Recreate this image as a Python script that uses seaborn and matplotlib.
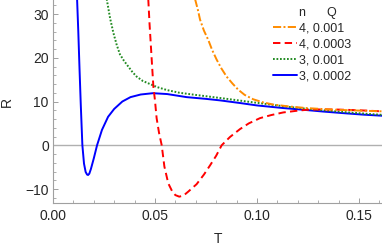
import matplotlib
matplotlib.use('Agg')
import matplotlib.pyplot as plt
from matplotlib.lines import Line2D
from matplotlib.ticker import MultipleLocator, FormatStrFormatter
import seaborn as sns
import pandas as pd

# curves: temperature T and curvature R
t_n3_q0002 = [0.0118, 0.0124, 0.0130, 0.0136, 0.0144, 0.0152, 0.0160, 0.0167, 0.0172,
              0.0178, 0.0186, 0.0200, 0.0216, 0.0240, 0.0270, 0.0300, 0.0340, 0.0380,
              0.0430, 0.0490, 0.0560, 0.0655, 0.0750, 0.0820, 0.0917, 0.1000, 0.1129,
              0.1230, 0.1325, 0.1420, 0.1520, 0.1613]
r_n3_q0002 = [33.5, 26.0, 17.5, 9.5, 0.0, -4.2, -6.1, -6.7, -6.8,
              -6.5, -5.4, -3.0, 0.0, 3.5, 6.5, 8.3, 10.0, 11.0,
              11.6, 11.9, 11.7, 11.0, 10.6, 10.25, 9.65, 9.1, 8.5,
              8.1, 7.7, 7.35, 7.0, 6.75]

t_n3_q001 = [0.0263, 0.0280, 0.0296, 0.0312, 0.0328, 0.0348, 0.0369, 0.0390, 0.0410,
             0.0440, 0.0475, 0.0510, 0.0560, 0.0620, 0.0700, 0.0820, 0.0950, 0.1050,
             0.1150, 0.1250, 0.1350, 0.1450, 0.1550, 0.1613]
r_n3_q001 = [33.5, 29.0, 25.7, 23.0, 20.8, 19.3, 18.0, 16.7, 15.7,
             14.7, 14.0, 13.3, 12.6, 12.0, 11.5, 10.8, 10.0, 9.4,
             8.8, 8.3, 7.9, 7.5, 7.15, 6.95]

t_n4_q0003 = [0.0467, 0.0473, 0.0479, 0.0486, 0.0492, 0.0500, 0.0508, 0.0520, 0.0533,
              0.0546, 0.0565, 0.0585, 0.0600, 0.0619, 0.0640, 0.0663, 0.0704, 0.0740,
              0.0770, 0.0800, 0.0827, 0.0868, 0.0917, 0.0960, 0.1015, 0.1070, 0.1129,
              0.1190, 0.1243, 0.1320, 0.1400, 0.1500, 0.1613]
r_n4_q0003 = [33.5, 28.0, 23.4, 18.0, 13.5, 10.2, 6.2, 2.8, 0.0,
              -4.85, -8.7, -10.6, -11.4, -11.75, -11.5, -10.6, -8.9, -6.7,
              -4.6, -2.4, 0.0, 1.9, 3.7, 5.0, 6.2, 6.9, 7.5,
              7.85, 8.1, 8.2, 8.15, 8.0, 7.75]

t_n4_q001 = [0.0696, 0.0710, 0.0721, 0.0740, 0.0761, 0.0780, 0.0802, 0.0825, 0.0851,
             0.0880, 0.0908, 0.0940, 0.0982, 0.1030, 0.1080, 0.1160, 0.1243, 0.1350,
             0.1450, 0.1550, 0.1613]
r_n4_q001 = [33.5, 31.0, 28.7, 26.2, 24.1, 21.8, 19.6, 17.6, 15.7,
             14.1, 12.7, 11.5, 10.5, 9.8, 9.3, 8.85, 8.5, 8.2,
             8.0, 7.85, 7.75]

labels = ['4, 0.001', '4, 0.0003', '3, 0.001', '3, 0.0002']
colors = ['#ff8c00', '#ff0000', '#228b22', '#0000ff']
dash_styles = [(4.2, 1.2, 1.0, 1.2), (3.8, 2.2), (0.9, 0.9), None]

curves = [(t_n4_q001, r_n4_q001), (t_n4_q0003, r_n4_q0003),
          (t_n3_q001, r_n3_q001), (t_n3_q0002, r_n3_q0002)]

sns.set_style('ticks')
plt.rcParams['font.family'] = ['Liberation Sans', 'DejaVu Sans']
plt.rcParams['font.size'] = 10

fig = plt.figure(figsize=(3.82, 2.47), dpi=100)
ax = fig.add_axes([53 / 382, 44 / 247, 329 / 382, 203 / 247])

ax.axhline(0, color='#b0b0b0', lw=1.0, zorder=1)

# draw back to front so the blue curve sits on top
for (t, r), label, color, dash in reversed(list(zip(curves, labels, colors, dash_styles))):
    df = pd.DataFrame({'T': t, 'R': r})
    sns.lineplot(data=df, x='T', y='R', ax=ax, color=color, lw=1.4,
                 sort=False, label=label, legend=False)
    if dash is not None:
        ax.lines[-1].set_dashes(dash)

ax.set_xlim(0, 0.1613)
ax.set_ylim(-13.2, 33.2)
ax.xaxis.set_major_locator(MultipleLocator(0.05))
ax.xaxis.set_minor_locator(MultipleLocator(0.01))
ax.yaxis.set_major_locator(MultipleLocator(10))
ax.yaxis.set_minor_locator(MultipleLocator(2))
ax.xaxis.set_major_formatter(FormatStrFormatter('%.2f'))

for side in ['top', 'right']:
    ax.spines[side].set_visible(False)
for side in ['left', 'bottom']:
    ax.spines[side].set_color('#a0a0a0')
    ax.spines[side].set_linewidth(0.8)
ax.tick_params(which='major', direction='in', length=3.5, width=0.7, color='#a0a0a0',
               labelsize=10, pad=4)
ax.tick_params(which='minor', direction='in', length=2, width=0.6, color='#a0a0a0')
ax.tick_params(axis='y', which='major', pad=3)

ax.set_xlabel('T', fontsize=10)
ax.set_ylabel('R', fontsize=10)
ax.xaxis.set_label_coords(0.5, -0.145)
ax.yaxis.set_label_coords(-0.12, 0.5)

handles = [Line2D([], [], color='none')]
for color, dash in zip(colors, dash_styles):
    h = Line2D([], [], color=color, lw=1.4)
    if dash is not None:
        h.set_dashes(dash)
    handles.append(h)
ax.legend(handles, ['n      Q'] + labels, loc='upper left', bbox_to_anchor=(0.653, 0.99),
          frameon=False, fontsize=9, handlelength=1.9, handletextpad=0.2,
          labelspacing=0.3, borderaxespad=0)

fig.savefig('out.png', dpi=100)
